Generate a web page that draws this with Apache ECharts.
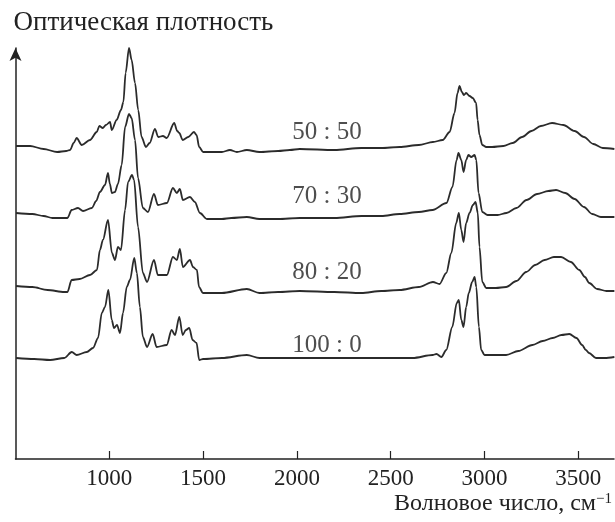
<!DOCTYPE html>
<html>
<head>
<meta charset="utf-8">
<script src="https://cdn.jsdelivr.net/npm/echarts@6/dist/echarts.min.js"></script>
<style>
  html, body { margin: 0; padding: 0; background: #fff; }
  #chart { width: 615px; height: 522px; }
</style>
</head>
<body>
<div id="chart"></div>
<script>
// IR spectra, offset vertically (arbitrary units), wavenumber in cm^-1
const xTicks = [1000, 1500, 2000, 2500, 3000, 3500]

const ratio5050 = [[503,313],[578,313],[650,310],[722,307],[770,308],[791,309],[810,316],[826,321],[853,314],[897,319],[933,327],[947,333],[965,331],[982,334],[1004,337],[1013,329],[1039,339],[1062,349],[1075,357],[1087,386],[1105,411],[1119,399],[1137,376],[1154,349],[1172,322],[1195,312],[1215,316],[1243,330],[1261,322],[1286,323],[1306,321],[1346,336],[1362,328],[1373,326],[1391,319],[1421,322],[1451,327],[1465,324],[1479,312],[1500,307],[1520,307],[1600,307],[1643,309],[1680,307],[1733,309],[1800,307],[1900,308],[1962,309],[2015,310],[2200,309],[2343,311],[2450,311],[2547,312],[2650,314],[2725,317],[2777,319],[2814,327],[2840,346],[2856,366],[2867,373],[2879,367],[2890,364],[2902,366],[2920,363],[2937,361],[2955,356],[2963,339],[2973,324],[2988,314],[3009,312],[3040,312],[3100,313],[3150,316],[3200,322],[3250,328],[3300,333],[3360,336],[3420,334],[3480,328],[3530,322],[3580,315],[3630,311],[3692,310]]

const ratio7030 = [[503,246],[590,245],[650,243],[697,241],[777,241],[799,249],[833,251],[860,248],[907,251],[930,258],[950,267],[977,274],[993,286],[1003,275],[1014,266],[1030,267],[1046,275],[1066,294],[1084,332],[1105,345],[1119,341],[1137,319],[1153,281],[1179,251],[1206,247],[1238,265],[1259,254],[1307,256],[1339,271],[1360,266],[1376,270],[1392,259],[1430,262],[1456,257],[1483,246],[1520,240],[1600,240],[1650,241],[1733,242],[1800,240],[1900,240],[2015,241],[2200,241],[2345,243],[2450,243],[2547,245],[2650,247],[2723,249],[2797,256],[2829,272],[2851,299],[2861,306],[2876,299],[2888,287],[2902,299],[2914,304],[2929,302],[2947,304],[2956,299],[2968,266],[2988,247],[3016,244],[3070,244],[3117,246],[3170,251],[3224,259],[3280,265],[3340,268],[3381,269],[3430,266],[3480,260],[3530,252],[3574,245],[3620,242],[3692,242]]

const ratio8020 = [[503,173],[590,172],[670,169],[760,167],[777,167],[799,179],[842,180],[897,184],[934,189],[950,209],[966,219],[993,239],[1014,206],[1030,199],[1046,212],[1062,209],[1084,249],[1100,277],[1121,284],[1132,279],[1153,232],[1179,186],[1201,177],[1238,199],[1259,184],[1307,184],[1339,202],[1360,199],[1376,210],[1392,192],[1430,199],[1446,192],[1467,189],[1478,172],[1499,166],[1600,166],[1733,170],[1800,166],[1900,167],[2015,168],[2200,167],[2343,166],[2450,168],[2547,169],[2650,172],[2725,177],[2760,175],[2796,186],[2823,206],[2849,236],[2863,246],[2876,229],[2888,217],[2902,236],[2920,246],[2938,254],[2952,257],[2964,246],[2973,212],[2988,177],[3009,171],[3060,171],[3115,172],[3170,178],[3222,187],[3270,194],[3320,199],[3370,202],[3408,202],[3460,197],[3505,189],[3535,182],[3558,176],[3600,170],[3650,168],[3692,168]]

const ratio1000 = [[503,101],[600,100],[684,99],[760,101],[800,107],[826,104],[880,107],[913,111],[940,121],[960,146],[977,152],[995,169],[1013,139],[1025,131],[1041,134],[1057,126],[1073,146],[1093,172],[1110,179],[1133,201],[1147,186],[1163,152],[1179,122],[1201,112],[1231,125],[1252,112],[1306,114],[1332,129],[1350,124],[1373,142],[1391,124],[1408,129],[1426,131],[1444,119],[1465,116],[1479,99],[1500,100],[1600,101],[1733,104],[1800,101],[1900,101],[2100,101],[2300,101],[2500,101],[2617,101],[2723,104],[2744,105],[2770,102],[2796,109],[2828,132],[2852,156],[2863,159],[2876,139],[2888,132],[2902,152],[2916,166],[2934,177],[2947,182],[2956,172],[2970,132],[2982,109],[3000,104],[3060,104],[3115,104],[3180,108],[3255,114],[3310,118],[3363,121],[3410,124],[3452,125],[3490,121],[3520,114],[3540,109],[3557,106],[3594,101],[3640,101],[3692,102]]

const seriesNames = ['50 : 50', '70 : 30', '80 : 20', '100 : 0']
const labelX = [2160, 2160, 2160, 2160]
const labelY = [327, 263, 187, 114]

const chartDom = document.getElementById('chart')
const chart = echarts.init(chartDom, null, { renderer: 'canvas' })

const font = '"Liberation Serif", "Times New Roman", serif'
const ink = '#2b2b2b'

const lineSeries = (name, data) => ({
  name,
  type: 'line',
  data,
  showSymbol: false,
  smooth: 0.3,
  smoothMonotone: 'x',
  lineStyle: { color: ink, width: 1.8 },
  silent: true
})

const option = {
  animation: false,
  backgroundColor: '#fff',
  grid: { left: 15.5, right: 0, top: 48, bottom: 63 },
  xAxis: {
    type: 'value',
    min: 500,
    max: 3690,
    interval: 500,
    name: 'Волновое число, см{sup|−1}',
    nameLocation: 'end',
    nameGap: -2,
    nameTextStyle: {
      fontFamily: font,
      fontSize: 24,
      color: '#222',
      align: 'right',
      verticalAlign: 'top',
      padding: [33, 0, 0, 0],
      rich: {
        sup: { fontFamily: font, fontSize: 15, color: '#222', verticalAlign: 'top', padding: [0, 0, 8, 0] }
      }
    },
    axisLine: { lineStyle: { color: '#222', width: 1.5 } },
    axisTick: { inside: true, length: 8, lineStyle: { color: '#222', width: 1.2 }, customValues: xTicks },
    axisLabel: {
      fontFamily: font,
      fontSize: 23,
      color: '#222',
      margin: 8,
      customValues: xTicks,
      formatter: v => String(v)
    },
    splitLine: { show: false }
  },
  yAxis: {
    type: 'value',
    min: 0,
    max: 411,
    name: 'Оптическая плотность',
    nameLocation: 'end',
    nameGap: 12,
    nameTextStyle: {
      fontFamily: font,
      fontSize: 27,
      color: '#222',
      align: 'left',
      verticalAlign: 'bottom',
      padding: [0, 0, 0, -2]
    },
    axisLine: {
      show: true,
      symbol: ['none', 'arrow'],
      symbolSize: [9, 13],
      lineStyle: { color: '#222', width: 1.5 }
    },
    axisTick: { show: false },
    axisLabel: { show: false },
    splitLine: { show: false }
  },
  series: [
    lineSeries(seriesNames[0], ratio5050),
    lineSeries(seriesNames[1], ratio7030),
    lineSeries(seriesNames[2], ratio8020),
    lineSeries(seriesNames[3], ratio1000),
    {
      name: 'labels',
      type: 'scatter',
      symbolSize: 1,
      itemStyle: { color: 'transparent' },
      silent: true,
      data: seriesNames.map((n, i) => [labelX[i], labelY[i], n]),
      label: {
        show: true,
        position: 'inside',
        formatter: p => p.data[2],
        fontFamily: font,
        fontSize: 25,
        color: '#222'
      }
    }
  ]
}

chart.setOption(option)
</script>
</body>
</html>
